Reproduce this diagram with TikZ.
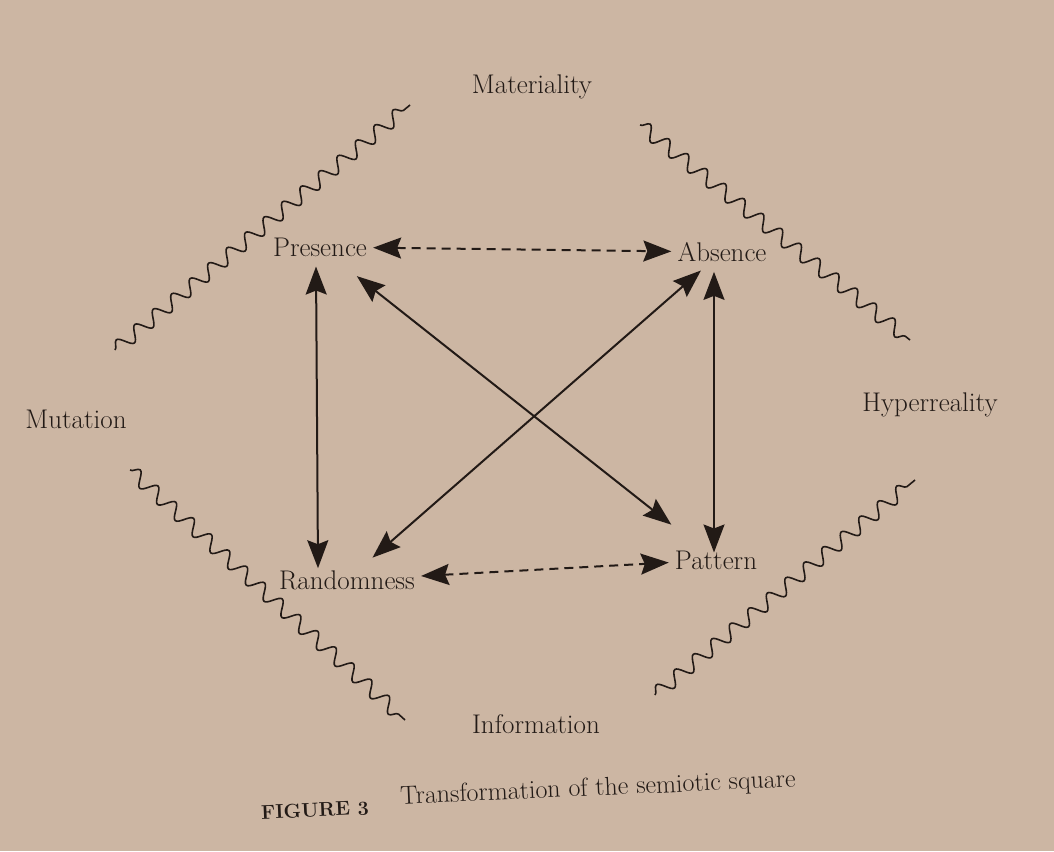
\documentclass[tikz,border=0pt]{standalone}
\usetikzlibrary{arrows.meta,decorations.pathmorphing}
\definecolor{paper}{RGB}{204,182,163}
\definecolor{ink}{RGB}{34,26,22}
\tikzset{
  term/.style={text=ink, font=\fontsize{27}{32}\selectfont, inner sep=6pt},
  link/.style={draw=ink, line width=2pt, {Stealth[length=28pt,width=21pt,inset=4pt]}-{Stealth[length=28pt,width=21pt,inset=4pt]}},
  dashlink/.style={link, dash pattern=on 9pt off 6pt},
  wave/.style={draw=ink, line width=1.6pt, decorate,
    decoration={snake, segment length=24pt, amplitude=7pt}}
}
\begin{document}
\begin{tikzpicture}[x=1pt,y=-1pt]
  % page
  \fill[paper] (0,0) rectangle (1054,851);
  \useasboundingbox (0,0) rectangle (1054,851);
  % corners of the square
  \node[term] (pres) at (320,247) {Presence};
  \node[term] (abs)  at (722,252) {Absence};
  \node[term] (rand) at (347,580) {Randomness};
  \node[term] (pat)  at (716,560) {Pattern};
  % outer terms
  \node[term] (mat)  at (532,87)  {Materiality};
  \node[term] (info) at (536,724) {Information};
  \node[term] (mut)  at (76,419)  {Mutation};
  \node[term] (hyp)  at (930,405) {Hyperreality};
  % wavy borders
  \coordinate (tlA) at (115,350); \coordinate (tlB) at (410,105);
  \coordinate (trA) at (640,125); \coordinate (trB) at (910,340);
  \coordinate (blA) at (130,470); \coordinate (blB) at (405,720);
  \coordinate (brA) at (655,695); \coordinate (brB) at (915,480);
  \draw[wave] (tlA) -- (tlB);
  \draw[wave] (trA) -- (trB);
  \draw[wave] (blA) -- (blB);
  \draw[wave] (brA) -- (brB);
  % relations
  \draw[dashlink] (pres) -- (abs);
  \draw[dashlink] (rand) -- (pat);
  \draw[link] ([xshift=-4pt,yshift=-4pt]pres.south) -- ([xshift=-29pt,yshift=-4pt]rand.north);
  \draw[link] ([xshift=-8pt,yshift=-4pt]abs.south) -- ([xshift=-2pt,yshift=-8pt]pat.north);
  \draw[link, shorten <=22pt, shorten >=32pt] (pres) -- (pat);
  \draw[link, shorten <=4pt, shorten >=10pt] (abs) -- (rand);
  % caption
  \node[text=ink, font=\fontsize{20}{24}\selectfont\bfseries, rotate=2.5] (fig) at (315,810) {FIGURE 3};
  \node[text=ink, font=\fontsize{26}{30}\selectfont, rotate=2.5] (cap) at (598,789) {Transformation of the semiotic square};
\end{tikzpicture}
\end{document}
